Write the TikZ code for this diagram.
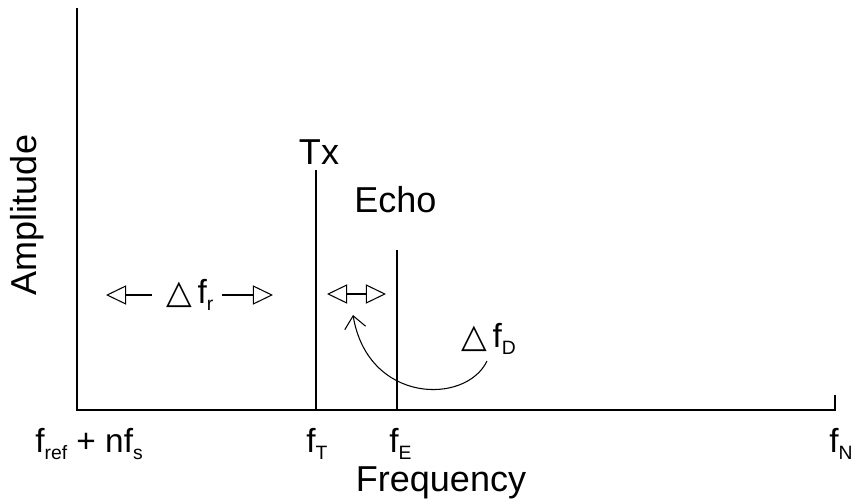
\documentclass[tikz,border=0pt]{standalone}
\usepackage{fontspec}
\setmainfont{Liberation Sans}
\newfontfamily\symfont{DejaVu Sans}
\usetikzlibrary{arrows.meta}
\newcommand{\dtri}{{\symfont\char"25B3}}
\newcommand{\sub}[1]{\raisebox{-0.22em}{\fontsize{11}{12}\selectfont #1}}

\tikzset{
    axisline/.style={line width=1.1pt},
    peak/.style={line width=0.6pt},
    biglbl/.style={font=\fontsize{20.5}{24}\selectfont, inner sep=0pt},
    flbl/.style={font=\fontsize{19}{22}\selectfont, inner sep=0pt, anchor=base west},
    spanarrow/.style={line width=0.6pt, -{Triangle[open, length=11.5pt, width=11pt]}},
}

\begin{document}
\begin{tikzpicture}[x=0.02cm, y=-0.02cm]
    \useasboundingbox (0,0) rectangle (856,501);

    % Axes
    \coordinate (origin) at (77,410);
    \coordinate (ytop) at (77,8);
    \coordinate (xend) at (835,410);
    \coordinate (xtick) at (835,395);
    \draw[axisline] (ytop) -- (origin) -- (xend) -- (xtick);
    \node[biglbl, rotate=90] (amp) at (27,215) {Amplitude};
    \node[biglbl, anchor=base] (freq) at (441,491) {Frequency};

    % Transmitted and echo lines
    \coordinate (txtop) at (316,170);
    \coordinate (txbot) at (316,410);
    \coordinate (echotop) at (397,250);
    \coordinate (echobot) at (397,410);
    \draw[peak] (txtop) -- (txbot);
    \draw[axisline] (echotop) -- (echobot);
    \node[biglbl, anchor=base] (tx) at (319,164) {Tx};
    \node[biglbl, anchor=base west] (echo) at (354,212) {Echo};

    % Frequency labels
    \node[flbl] (fref) at (35,452) {f\sub{ref} + nf\sub{s}};
    \node[flbl] (fT) at (306,452) {f\sub{T}};
    \node[flbl] (fE) at (389,452) {f\sub{E}};
    \node[flbl] (fN) at (829,452) {f\sub{N}};

    % Range spacing
    \node[flbl] (dfr) at (166,303) {\dtri\,f\sub{r}};
    \coordinate (rleft) at (106,295);
    \coordinate (rright) at (273,295);
    \draw[spanarrow] (dfr.west |- rleft) ++(-14,0) coordinate (rl0) -- (rleft);
    \draw[spanarrow] (dfr.east |- rright) ++(8,0) coordinate (rr0) -- (rright);

    % Doppler shift
    \coordinate (dleft) at (327,294);
    \coordinate (dright) at (386,294);
    \coordinate (dmid) at (356,294);
    \draw[spanarrow] (dmid) -- (dleft);
    \draw[spanarrow] (dmid) -- (dright);
    \node[flbl] (dfD) at (461,347) {\dtri\,f\sub{D}};
    \coordinate (bendstart) at (487,361);
    \coordinate (bendend) at (353,315);
    \draw[line width=0.6pt, -{Straight Barb[length=7pt, width=12pt]}]
        (bendstart) .. controls (466,405) and (368,404) .. (bendend);
\end{tikzpicture}
\end{document}
